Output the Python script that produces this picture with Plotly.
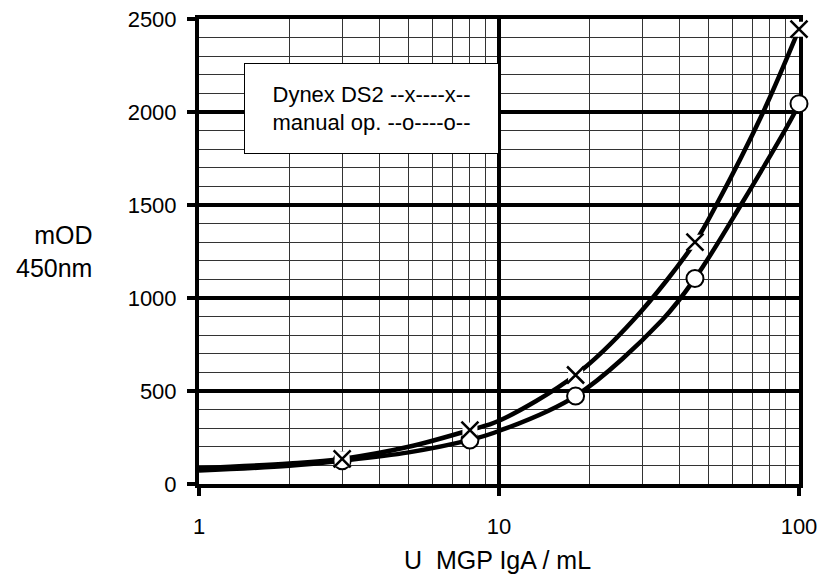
import plotly.graph_objects as go

# concentration (U MGP IgA / mL) and mOD at 450 nm
std_conc = [3, 8, 18, 45, 100]
dynex_od = [135, 290, 586, 1300, 2445]
manual_od = [125, 237, 473, 1105, 2045]

# fitted curves
dynex_fit_x = [1, 2, 3, 5, 8, 10, 18, 28, 45, 53, 76, 100]
dynex_fit_y = [85, 110, 135, 200, 290, 340, 586, 880, 1300, 1500, 2000, 2445]
manual_fit_x = [1, 2, 3, 5, 8, 10, 18, 35, 45, 64, 97, 100]
manual_fit_y = [72, 98, 125, 170, 237, 285, 473, 882, 1105, 1500, 2000, 2045]

y_ticks = [0, 500, 1000, 1500, 2000, 2500]
x_ticks = [1, 10, 100]

FONT = "Arial, Liberation Sans, sans-serif"

fig = go.Figure()

# fit curves
fig.add_trace(go.Scatter(x=dynex_fit_x, y=dynex_fit_y, mode='lines',
                         line=dict(color='black', width=4.5, shape='spline'),
                         hoverinfo='skip'))
fig.add_trace(go.Scatter(x=manual_fit_x, y=manual_fit_y, mode='lines',
                         line=dict(color='black', width=4.5, shape='spline'),
                         hoverinfo='skip'))

# open circles (manual)
fig.add_trace(go.Scatter(x=std_conc, y=manual_od, mode='markers', cliponaxis=False,
                         marker=dict(symbol='circle', size=17, color='white',
                                     line=dict(color='black', width=2)),
                         name='manual op.'))
# white patch behind the crosses, then the crosses (Dynex)
fig.add_trace(go.Scatter(x=std_conc, y=dynex_od, mode='markers', cliponaxis=False,
                         marker=dict(symbol='square', size=15, color='white'),
                         hoverinfo='skip'))
fig.add_trace(go.Scatter(x=std_conc, y=dynex_od, mode='markers', cliponaxis=False,
                         marker=dict(symbol='x-thin', size=17,
                                     line=dict(color='black', width=2.5)),
                         name='Dynex DS2'))

fig.update_xaxes(
    type='log', range=[0, 2], tickvals=x_ticks, ticktext=[str(v) for v in x_ticks],
    showgrid=True, gridcolor='black', gridwidth=4,
    minor=dict(dtick='D1', showgrid=True, gridcolor='#333333', gridwidth=1, ticks=''),
    showline=True, linecolor='black', linewidth=4, mirror=True,
    ticks='outside', ticklen=8, tickwidth=4, tickcolor='black',
    ticklabelstandoff=12, zeroline=False, layer='below traces', automargin=False,
    tickfont=dict(family=FONT, size=22, color='black'),
)
fig.update_yaxes(
    range=[0, 2500], tickvals=y_ticks,
    showgrid=True, gridcolor='black', gridwidth=4,
    minor=dict(dtick=100, showgrid=True, gridcolor='#333333', gridwidth=1, ticks=''),
    showline=True, linecolor='black', linewidth=4, mirror=True,
    ticks='outside', ticklen=8, tickwidth=4, tickcolor='black',
    ticklabelstandoff=6, zeroline=False, layer='below traces', automargin=False,
    tickfont=dict(family=FONT, size=22, color='black'),
)

fig.update_layout(
    width=819, height=577,
    margin=dict(l=199, r=20, t=19, b=93, autoexpand=False),
    paper_bgcolor='white', plot_bgcolor='white',
    showlegend=False,
    font=dict(family=FONT, color='black'),
    annotations=[
        dict(text="Dynex DS2 --x----x--<br>manual op. --o----o--",
             xref='paper', yref='paper', x=0.2875, y=0.8075,
             xanchor='center', yanchor='middle', showarrow=False, align='center',
             width=251, height=87, borderpad=1, borderwidth=1,
             bordercolor='black', bgcolor='white',
             font=dict(family=FONT, size=22, color='black')),
        dict(text="mOD<br>450nm", xref='paper', yref='paper',
             x=-0.175, y=0.501, xanchor='right', yanchor='middle',
             showarrow=False, align='right',
             font=dict(family=FONT, size=25, color='black')),
        dict(text="U  MGP IgA / mL", xref='paper', yref='paper',
             x=0.498, y=-0.163, xanchor='center', yanchor='middle',
             showarrow=False,
             font=dict(family=FONT, size=25, color='black')),
    ],
)

fig.write_html("out.html", config={'displayModeBar': False},
               post_script="document.body.style.margin='0';"
                           "document.body.style.overflow='hidden';")
